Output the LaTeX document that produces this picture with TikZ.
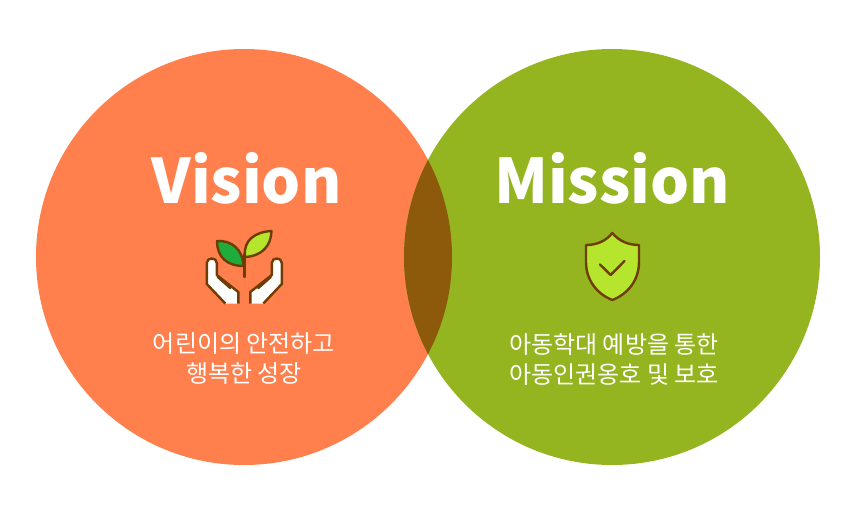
\documentclass[tikz,border=0pt]{standalone}
\usepackage{fontspec}
\setmainfont{Noto Sans CJK KR}
\usepackage{tikz}
\usetikzlibrary{positioning}
\definecolor{orangefill}{HTML}{FF7F4D}
\definecolor{greenfill}{HTML}{94B51F}
\definecolor{overlapfill}{HTML}{8C5A0A}
\definecolor{iconline}{HTML}{6E3C05}
\definecolor{leafdark}{HTML}{20AC3A}
\definecolor{leaflight}{HTML}{B5E62D}
\tikzset{
x=1pt, y=-1pt, % pixels of the picture, y running down
node distance=368pt, % specifies the distance between the two circles
bigcircle/.style={circle, minimum size=416pt, inner sep=0pt},
title/.style={text=white, font=\bfseries\fontsize{61.5}{62}\selectfont, inner sep=0pt},
caption/.style={text=white, align=center, inner sep=0pt, font=\fontsize{24}{30}\selectfont},
icon/.style={draw=iconline, line width=2.4pt, line join=round, line cap=round},
}

\begin{document}
\begin{tikzpicture}
    \useasboundingbox (0,0) rectangle (855,508);
    \node[bigcircle, fill=orangefill] (vision) at (244,257) {};
    \node[bigcircle, fill=greenfill, right of=vision] (mission) {};

    % overlap of the two circles
    \begin{scope}
        \clip (244,257) circle (208);
        \fill[overlapfill] (612,257) circle (208);
    \end{scope}

    \node[title] (visiontitle) at (246.5,178) {Vision};
    \node[title] (missiontitle) at (612,178) {Mission};
    \node[caption] (visiontext) at (244,359) {어린이의 안전하고\\행복한 성장};
    \node[caption] (missiontext) at (614,359) {아동학대 예방을 통한\\아동인권옹호 및 보호};

    % leaves
    \draw[icon, fill=leafdark] (217,241) .. controls (232,240) and (243,250) .. (243.5,266)
        .. controls (228,266) and (217,258) .. cycle;
    \draw[icon, fill=leaflight] (271.5,231) .. controls (255,232) and (243,240) .. (245,257)
        .. controls (262,256) and (271,246) .. cycle;
    \draw[icon] (244.3,254) -- (244.3,277);

    % hands
    \foreach \m/\s in {244.3/1, 244.3/-1} {
        \begin{scope}[shift={(\m,0)}, xscale=\s]
            \fill[white] (-37.5,263) .. controls (-37.5,257) and (-27.5,257) .. (-27.5,263)
                -- (-27.5,275) -- (-6,292) -- (-6,303.5) -- (-19,303.5) -- (-37.5,284) -- cycle;
            \draw[icon, line cap=butt] (-19,303.5) -- (-37.5,284) -- (-37.5,263)
                .. controls (-37.5,257) and (-27.5,257) .. (-27.5,263)
                -- (-27.5,275) -- (-6,292) -- (-6,303.5);
            \draw[icon] (-26.5,277) -- (-14,288);
        \end{scope}
    }

    % shield
    \draw[icon, fill=leaflight] (612.3,233) .. controls (619,241) and (628,245) .. (639,245)
        -- (639,262) .. controls (639,280) and (628,294) .. (612.3,300)
        .. controls (597,294) and (586,280) .. (586,262) -- (586,245)
        .. controls (597,245) and (606,241) .. cycle;
    \draw[icon] (600,264.5) -- (610.7,275) -- (624.5,261);
\end{tikzpicture}
\end{document}
